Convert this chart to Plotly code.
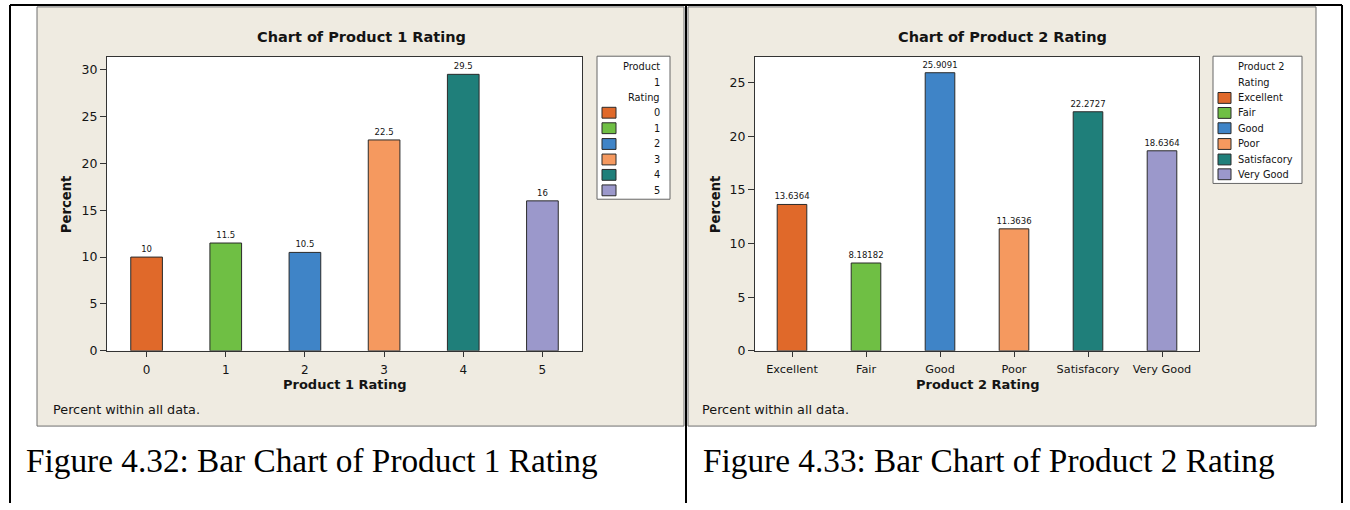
import plotly.graph_objects as go

W, H = 1350, 510

# ---- data -------------------------------------------------------------
p1_categories = ["0", "1", "2", "3", "4", "5"]
p1_percent = [10, 11.5, 10.5, 22.5, 29.5, 16]

p2_categories = ["Excellent", "Fair", "Good", "Poor", "Satisfacory", "Very Good"]
p2_percent = [13.6364, 8.18182, 25.9091, 11.3636, 22.2727, 18.6364]

bar_colors = ["#E0692A", "#6FBF44", "#3F84C7", "#F5995F", "#1F7F7A", "#9B98CB"]

y1_ticks = [0, 5, 10, 15, 20, 25, 30]
y2_ticks = [0, 5, 10, 15, 20, 25]

SANS = "DejaVu Sans, Verdana, sans-serif"
SERIF = "Liberation Serif, Times New Roman, serif"
INK = "#141414"
FRAME = "#333333"
PANEL_BG = "#EFEBE1"
PANEL_EDGE = "#6e6e6e"


def fx(px):
    return px / W


def fy(py):
    return 1 - py / H


def fmt(v):
    return f"{v:g}"


fig = go.Figure()

for cats, vals, xa, ya in [(p1_categories, p1_percent, "x", "y"),
                           (p2_categories, p2_percent, "x2", "y2")]:
    fig.add_trace(go.Bar(
        x=cats, y=vals, xaxis=xa, yaxis=ya,
        width=0.4,
        marker=dict(color=bar_colors, line=dict(color="#2a2a2a", width=1)),
        text=[fmt(v) for v in vals],
        textposition="outside",
        constraintext="none",
        cliponaxis=False,
        textfont=dict(family=SANS, size=8.5, color=INK),
        showlegend=False,
        hoverinfo="x+y",
    ))

axis_common = dict(
    showline=True, mirror=True, linecolor=FRAME, linewidth=1,
    ticks="outside", tickcolor=FRAME, ticklen=5, tickwidth=1,
    showgrid=False, zeroline=False, fixedrange=True,
)

fig.update_layout(
    width=W, height=H,
    margin=dict(l=0, r=0, t=0, b=0),
    paper_bgcolor="white", plot_bgcolor="white",
    font=dict(family=SANS, color=INK),
    xaxis=dict(axis_common, domain=[fx(107), fx(582)], anchor="y",
               type="category", categoryarray=p1_categories,
               range=[-0.5, 5.5], ticklabelstandoff=3,
               tickfont=dict(size=12, color=INK)),
    yaxis=dict(axis_common, domain=[fy(355.7), fy(57.5)], anchor="x",
               range=[0, 31.38], tickvals=y1_ticks, ticklen=6,
               tickfont=dict(size=12.5, color=INK)),
    xaxis2=dict(axis_common, domain=[fx(755), fx(1199)], anchor="y2",
                type="category", categoryarray=p2_categories,
                range=[-0.5, 5.5], ticklabelstandoff=3,
                tickfont=dict(size=11.3, color=INK)),
    yaxis2=dict(axis_common, domain=[fy(355.7), fy(57.3)], anchor="x2",
                range=[0, 27.42], tickvals=y2_ticks, ticklen=6,
                tickfont=dict(size=12.5, color=INK)),
)

shapes = []
# beige chart panels
for x0, x1 in [(37, 684), (688, 1316)]:
    shapes.append(dict(type="rect", xref="paper", yref="paper", layer="below",
                       x0=fx(x0), x1=fx(x1), y0=fy(432), y1=fy(7),
                       fillcolor=PANEL_BG, line=dict(color=PANEL_EDGE, width=1)))
# white data regions
for xr, yr in [("x domain", "y domain"), ("x2 domain", "y2 domain")]:
    shapes.append(dict(type="rect", xref=xr, yref=yr, layer="below",
                       x0=0, x1=1, y0=0, y1=1,
                       fillcolor="white", line=dict(width=0)))
# legend boxes
for x0, x1, y0, y1 in [(597, 670, 57, 202), (1213, 1302, 57, 186)]:
    shapes.append(dict(type="rect", xref="paper", yref="paper", layer="below",
                       x0=fx(x0), x1=fx(x1), y0=fy(y1), y1=fy(y0),
                       fillcolor="white", line=dict(color="#666666", width=1)))

annotations = []
LEG_FONT = dict(size=9.8, color=INK)

# legend for Product 1
leg1_rows = [114.3, 130, 146, 161.7, 177.3, 193]
for label, yc in [("Product", 67.7), ("1", 83.5), ("Rating", 99.3)]:
    annotations.append(dict(xref="paper", yref="paper", x=fx(662), y=fy(yc),
                            xanchor="right", yanchor="middle", showarrow=False,
                            text=label, font=LEG_FONT))
for cat, col, yc in zip(p1_categories, bar_colors, leg1_rows):
    shapes.append(dict(type="rect", xref="paper", yref="paper",
                       x0=fx(602), x1=fx(616), y0=fy(yc + 5.5), y1=fy(yc - 5.5),
                       fillcolor=col, line=dict(color="#2a2a2a", width=1)))
    annotations.append(dict(xref="paper", yref="paper", x=fx(662), y=fy(yc),
                            xanchor="right", yanchor="middle", showarrow=False,
                            text=cat, font=LEG_FONT))

# legend for Product 2
leg2_rows = [99.3, 114.5, 130, 146, 161.7, 176.7]
for label, yc in [("Product 2", 67.7), ("Rating", 84)]:
    annotations.append(dict(xref="paper", yref="paper", x=fx(1236), y=fy(yc),
                            xanchor="left", yanchor="middle", showarrow=False,
                            text=label, font=LEG_FONT))
for cat, col, yc in zip(p2_categories, bar_colors, leg2_rows):
    shapes.append(dict(type="rect", xref="paper", yref="paper",
                       x0=fx(1218), x1=fx(1231), y0=fy(yc + 5.5), y1=fy(yc - 5.5),
                       fillcolor=col, line=dict(color="#2a2a2a", width=1)))
    annotations.append(dict(xref="paper", yref="paper", x=fx(1236), y=fy(yc),
                            xanchor="left", yanchor="middle", showarrow=False,
                            text=cat, font=LEG_FONT))

# chart titles, axis titles and footnotes
for cx, title, xtitle, plot_cx, ycx, note_x in [
        (361, "Chart of Product 1 Rating", "Product 1 Rating", 344.5, 66, 51),
        (1002, "Chart of Product 2 Rating", "Product 2 Rating", 977, 715, 700)]:
    annotations.append(dict(xref="paper", yref="paper", x=fx(cx), y=fy(38),
                            xanchor="center", yanchor="middle", showarrow=False,
                            text=f"<b>{title}</b>", font=dict(size=14.5, color=INK)))
    annotations.append(dict(xref="paper", yref="paper", x=fx(plot_cx), y=fy(390),
                            xanchor="center", yanchor="middle", showarrow=False,
                            text=f"<b>{xtitle}</b>", font=dict(size=13, color=INK)))
    annotations.append(dict(xref="paper", yref="paper", x=fx(ycx), y=fy(207),
                            xanchor="center", yanchor="middle", showarrow=False,
                            textangle=-90,
                            text="<b>Percent</b>", font=dict(size=13.2, color=INK)))
    annotations.append(dict(xref="paper", yref="paper", x=fx(note_x), y=fy(415),
                            xanchor="left", yanchor="middle", showarrow=False,
                            text="Percent within all data.",
                            font=dict(size=12.8, color=INK)))

# figure captions below the panels
for x0, cap in [(24, "Figure 4.32: Bar Chart of Product 1 Rating"),
                (701, "Figure 4.33: Bar Chart of Product 2 Rating")]:
    annotations.append(dict(xref="paper", yref="paper", x=fx(x0), y=fy(467),
                            xanchor="left", yanchor="middle", showarrow=False,
                            text=cap, font=dict(family=SERIF, size=33.3, color="#000000")))

# table rules framing the two figures
BLACK = "#000000"
for x0, y0, x1, y1 in [(10, 5, 1342, 5), (10, 5, 10, 510),
                       (686, 5, 686, 510), (1342, 5, 1342, 510)]:
    shapes.append(dict(type="line", xref="paper", yref="paper",
                       x0=fx(x0), y0=fy(y0), x1=fx(x1), y1=fy(y1),
                       line=dict(color=BLACK, width=2)))

fig.update_layout(shapes=shapes, annotations=annotations)

fig.write_html("out.html", config={"displayModeBar": False})
